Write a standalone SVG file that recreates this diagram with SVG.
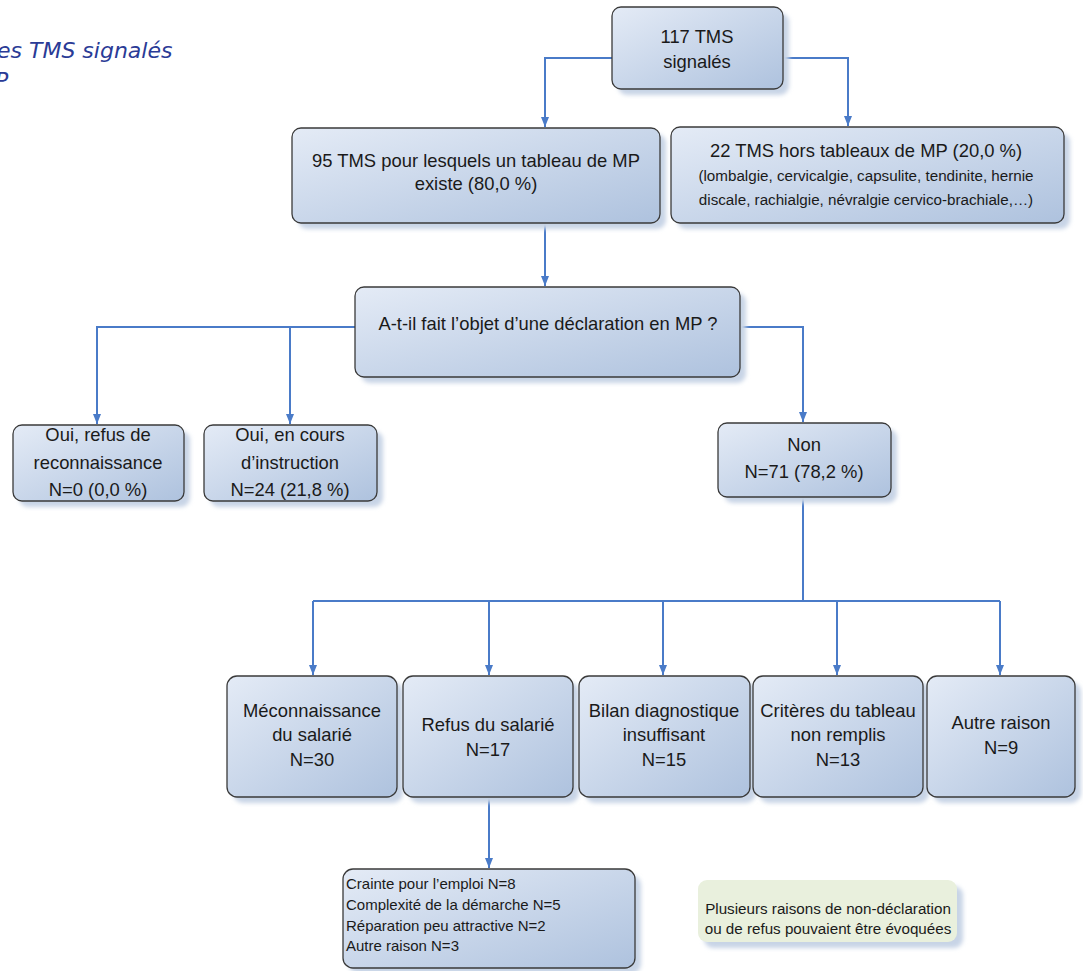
<svg xmlns="http://www.w3.org/2000/svg" width="1083" height="971" viewBox="0 0 1083 971">
<defs>
<linearGradient id="g" x1="0" y1="0" x2="1" y2="1">
<stop offset="0" stop-color="#e4ebf6"/>
<stop offset="1" stop-color="#aec2de"/>
</linearGradient>
<filter id="blur" x="-10%" y="-10%" width="120%" height="130%">
<feGaussianBlur stdDeviation="2"/>
</filter>
<marker id="arr" markerUnits="userSpaceOnUse" markerWidth="10" markerHeight="8" refX="10" refY="4" orient="auto">
<path d="M0,0 L10,4 L0,8 z" fill="#4a7bc8"/>
</marker>
</defs>
<style>
.box{fill:url(#g);stroke:#3a3a3a;stroke-width:1.3}
.sh{fill:#c8d4e6;filter:url(#blur)}
.t{font-family:"Liberation Sans",Arial,sans-serif;font-size:18.4px;fill:#1a1a1a;text-anchor:middle}
.s{font-family:"Liberation Sans",Arial,sans-serif;font-size:15.2px;fill:#1a1a1a;text-anchor:middle}
.l{font-family:"Liberation Sans",Arial,sans-serif;font-size:15px;fill:#1a1a1a}
.c{fill:none;stroke:#4a7bc8;stroke-width:2}
.title{font-family:"DejaVu Sans",Verdana,sans-serif;font-style:italic;font-size:22px;fill:#2a3b96}
</style>
<rect width="1083" height="971" fill="#ffffff"/>
<g id="title">
<text class="title" x="-3" y="58">es TMS signalés</text>
<text class="title" x="-5" y="88">P</text>
</g>
<g id="connectors">
<path class="c" d="M612,58 H545 V127" marker-end="url(#arr)"/>
<path class="c" d="M783,58 H848 V126" marker-end="url(#arr)"/>
<path class="c" d="M545,223 V286" marker-end="url(#arr)"/>
<path class="c" d="M355,327 H97 V424" marker-end="url(#arr)"/>
<path class="c" d="M290,327 V424" marker-end="url(#arr)"/>
<path class="c" d="M740,327 H803 V422" marker-end="url(#arr)"/>
<path class="c" d="M803,497 V601"/>
<path class="c" d="M313,601 H1000"/>
<path class="c" d="M313,601 V675" marker-end="url(#arr)"/>
<path class="c" d="M489,601 V675" marker-end="url(#arr)"/>
<path class="c" d="M663,601 V675" marker-end="url(#arr)"/>
<path class="c" d="M837,601 V675" marker-end="url(#arr)"/>
<path class="c" d="M1000,601 V675" marker-end="url(#arr)"/>
<path class="c" d="M489,797 V868" marker-end="url(#arr)"/>
</g>
<g id="n117">
<rect class="sh" x="618" y="13" width="171" height="82" rx="9"/>
<rect class="box" x="612" y="7" width="171" height="82" rx="9"/>
<text class="t" x="697" y="43">117 TMS</text>
<text class="t" x="697" y="68">signalés</text>
</g>
<g id="n95">
<rect class="sh" x="298" y="134" width="368" height="95" rx="9"/>
<rect class="box" x="292" y="128" width="368" height="95" rx="9"/>
<text class="t" x="476" y="167">95 TMS pour lesquels un tableau de MP</text>
<text class="t" x="476" y="190">existe (80,0 %)</text>
</g>
<g id="n22">
<rect class="sh" x="677" y="133" width="393" height="96" rx="9"/>
<rect class="box" x="671" y="127" width="393" height="96" rx="9"/>
<text class="t" x="866" y="157">22 TMS hors tableaux de MP (20,0 %)</text>
<text class="s" x="866" y="181">(lombalgie, cervicalgie, capsulite, tendinite, hernie</text>
<text class="s" x="866" y="205">discale, rachialgie, névralgie cervico-brachiale,…)</text>
</g>
<g id="question">
<rect class="sh" x="361" y="293" width="385" height="90" rx="9"/>
<rect class="box" x="355" y="287" width="385" height="90" rx="9"/>
<text class="t" x="548" y="330">A-t-il fait l’objet d’une déclaration en MP ?</text>
</g>
<g id="oui-refus">
<rect class="sh" x="19" y="431" width="171" height="76" rx="9"/>
<rect class="box" x="13" y="425" width="171" height="76" rx="9"/>
<text class="t" x="98" y="441">Oui, refus de</text>
<text class="t" x="98" y="469">reconnaissance</text>
<text class="t" x="98" y="496">N=0 (0,0 %)</text>
</g>
<g id="oui-cours">
<rect class="sh" x="210" y="431" width="173" height="76" rx="9"/>
<rect class="box" x="204" y="425" width="173" height="76" rx="9"/>
<text class="t" x="290" y="441">Oui, en cours</text>
<text class="t" x="290" y="469">d’instruction</text>
<text class="t" x="290" y="496">N=24 (21,8 %)</text>
</g>
<g id="non">
<rect class="sh" x="724" y="429" width="173" height="74" rx="9"/>
<rect class="box" x="718" y="423" width="173" height="74" rx="9"/>
<text class="t" x="804" y="451">Non</text>
<text class="t" x="804" y="478">N=71 (78,2 %)</text>
</g>
<g id="meconnaissance">
<rect class="sh" x="233" y="682" width="170" height="121" rx="10"/>
<rect class="box" x="227" y="676" width="170" height="121" rx="10"/>
<text class="t" x="312" y="717">Méconnaissance</text>
<text class="t" x="312" y="741">du salarié</text>
<text class="t" x="312" y="766">N=30</text>
</g>
<g id="refus">
<rect class="sh" x="409" y="682" width="170" height="121" rx="10"/>
<rect class="box" x="403" y="676" width="170" height="121" rx="10"/>
<text class="t" x="488" y="731">Refus du salarié</text>
<text class="t" x="488" y="756">N=17</text>
</g>
<g id="bilan">
<rect class="sh" x="585" y="682" width="171" height="121" rx="10"/>
<rect class="box" x="579" y="676" width="171" height="121" rx="10"/>
<text class="t" x="664" y="717">Bilan diagnostique</text>
<text class="t" x="664" y="741">insuffisant</text>
<text class="t" x="664" y="766">N=15</text>
</g>
<g id="criteres">
<rect class="sh" x="759" y="682" width="170" height="121" rx="10"/>
<rect class="box" x="753" y="676" width="170" height="121" rx="10"/>
<text class="t" x="838" y="717">Critères du tableau</text>
<text class="t" x="838" y="741">non remplis</text>
<text class="t" x="838" y="766">N=13</text>
</g>
<g id="autre">
<rect class="sh" x="933" y="682" width="148" height="121" rx="10"/>
<rect class="box" x="927" y="676" width="148" height="121" rx="10"/>
<text class="t" x="1001" y="729">Autre raison</text>
<text class="t" x="1001" y="754">N=9</text>
</g>
<g id="details">
<rect class="sh" x="349" y="875" width="292" height="99" rx="10"/>
<rect class="box" x="343" y="869" width="292" height="99" rx="10"/>
<text class="l" x="346" y="889">Crainte pour l’emploi N=8</text>
<text class="l" x="346" y="910">Complexité de la démarche N=5</text>
<text class="l" x="346" y="931">Réparation peu attractive N=2</text>
<text class="l" x="346" y="951">Autre raison N=3</text>
</g>
<g id="note">
<rect x="704" y="886" width="259" height="62" rx="9" fill="#c8d4e6" filter="url(#blur)"/>
<rect x="698" y="880" width="259" height="62" rx="9" fill="#e9f0dd"/>
<text class="s" x="828" y="914">Plusieurs raisons de non-déclaration</text>
<text class="s" x="828" y="934">ou de refus pouvaient être évoquées</text>
</g>
</svg>
